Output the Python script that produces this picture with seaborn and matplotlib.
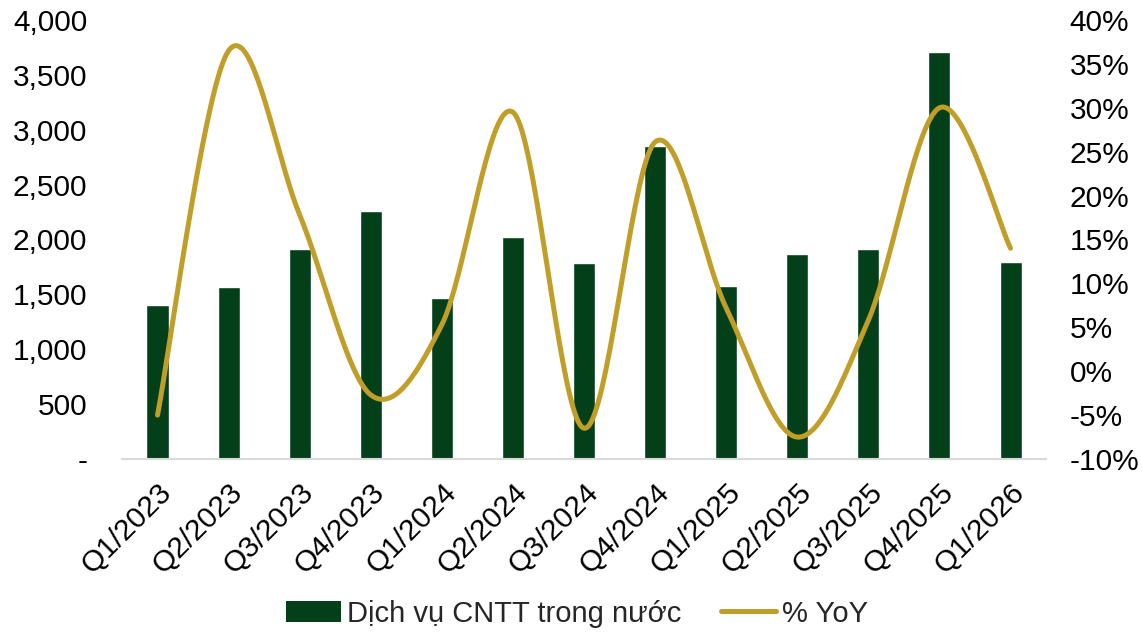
import numpy as np
import pandas as pd
import matplotlib
matplotlib.use("Agg")
import matplotlib.pyplot as plt
from matplotlib.ticker import FuncFormatter, MultipleLocator
from matplotlib.patches import Patch
from matplotlib.lines import Line2D
import seaborn as sns

# Quarterly revenue of domestic IT services and its year-on-year growth
quarters = ["Q1/2023", "Q2/2023", "Q3/2023", "Q4/2023", "Q1/2024", "Q2/2024",
            "Q3/2024", "Q4/2024", "Q1/2025", "Q2/2025", "Q3/2025", "Q4/2025",
            "Q1/2026"]
revenue = [1400, 1565, 1910, 2260, 1465, 2025, 1785, 2855, 1575, 1870, 1915,
           3710, 1795]
yoy_pct = [-5.0, 36.5, 17.8, -2.7, 5.3, 29.5, -6.5, 26.1, 7.2, -7.5, 5.8,
           30.0, 14.0]

bar_label = "Dịch vụ CNTT trong nước"
line_label = "% YoY"
bar_color = "#03401A"
line_color = "#C09E28"

sns.set_theme(style="white")
plt.rcParams["font.family"] = ["Liberation Sans", "DejaVu Sans"]
font_size = 21.5
legend_size = 21

fig = plt.figure(figsize=(11.42, 6.36), dpi=100)
ax = fig.add_axes([0.1068, 0.2783, 0.8092, 0.6903])

df = pd.DataFrame({"quarter": quarters, "revenue": revenue})
sns.barplot(data=df, x="quarter", y="revenue", color=bar_color,
            width=0.31, saturation=1, ax=ax)
ax.set_xlim(-0.5, len(quarters) - 0.5)
ax.set_ylim(0, 4000)
ax.yaxis.set_major_locator(MultipleLocator(500))
ax.yaxis.set_major_formatter(
    FuncFormatter(lambda v, _: "-" if v == 0 else f"{v:,.0f}"))
ax.set_xlabel("")
ax.set_ylabel("")
for side in ("left", "right", "top"):
    ax.spines[side].set_visible(False)
ax.spines["bottom"].set_color("#D9D9D9")
ax.spines["bottom"].set_linewidth(1.5)
ax.tick_params(axis="y", length=0, pad=25, labelsize=font_size,
               labelcolor="black")
ax.tick_params(axis="x", length=0, pad=14, labelsize=font_size,
               labelcolor="black")
for lbl in ax.get_xticklabels():
    lbl.set_rotation(45)
    lbl.set_ha("right")
    lbl.set_va("top")
    lbl.set_rotation_mode("anchor")


# Smoothed line through the growth values (uniform Catmull-Rom segments)
def smooth_curve(xs, ys, steps=40):
    xs = np.asarray(xs, float)
    ys = np.asarray(ys, float)
    px = np.concatenate([[xs[0]], xs, [xs[-1]]])
    py = np.concatenate([[ys[0]], ys, [ys[-1]]])
    out_x, out_y = [], []
    t = np.linspace(0, 1, steps)
    for i in range(1, len(px) - 2):
        x0, x1, x2, x3 = px[i - 1:i + 3]
        y0, y1, y2, y3 = py[i - 1:i + 3]
        cx1, cy1 = x1 + (x2 - x0) / 6, y1 + (y2 - y0) / 6
        cx2, cy2 = x2 - (x3 - x1) / 6, y2 - (y3 - y1) / 6
        bx = ((1 - t) ** 3 * x1 + 3 * (1 - t) ** 2 * t * cx1
              + 3 * (1 - t) * t ** 2 * cx2 + t ** 3 * x2)
        by = ((1 - t) ** 3 * y1 + 3 * (1 - t) ** 2 * t * cy1
              + 3 * (1 - t) * t ** 2 * cy2 + t ** 3 * y2)
        out_x.append(bx if i == 1 else bx[1:])
        out_y.append(by if i == 1 else by[1:])
    return np.concatenate(out_x), np.concatenate(out_y)


ax2 = ax.twinx()
sx, sy = smooth_curve(np.arange(len(quarters)), yoy_pct)
sns.lineplot(x=sx, y=sy, sort=False, color=line_color, linewidth=3.6,
             solid_capstyle="round", ax=ax2)
ax2.set_ylim(-10, 40)
ax2.yaxis.set_major_locator(MultipleLocator(5))
ax2.yaxis.set_major_formatter(FuncFormatter(lambda v, _: f"{v:.0f}%"))
for side in ("left", "right", "top", "bottom"):
    ax2.spines[side].set_visible(False)
ax2.tick_params(axis="y", length=0, pad=17, labelsize=font_size,
                labelcolor="black")
ax2.set_xlim(-0.5, len(quarters) - 0.5)

handles = [Patch(facecolor=bar_color, edgecolor="none", label=bar_label),
           Line2D([0], [0], color=line_color, linewidth=3.6,
                  solid_capstyle="round", label=line_label)]
fig.legend(handles=handles, loc="lower center", bbox_to_anchor=(0.505, -0.028),
           ncol=2, frameon=False, fontsize=legend_size, handlelength=1.9,
           handletextpad=0.2, columnspacing=1.35)

fig.savefig("out.png", dpi=100)
